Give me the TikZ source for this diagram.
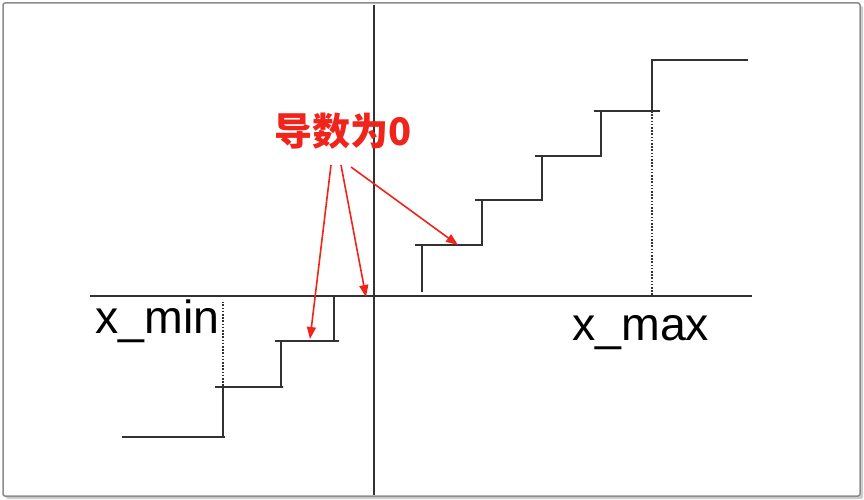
\documentclass[tikz,border=0pt]{standalone}
\usepackage{fontspec}
\setmainfont{Liberation Sans}
\newfontfamily\cjk{Noto Sans CJK SC}
\usetikzlibrary{arrows.meta}
\definecolor{stairgray}{RGB}{50,50,50}
\definecolor{zerored}{RGB}{240,36,26}

\begin{document}
\begin{tikzpicture}[x=1pt,y=-1pt,
  stair/.style={line width=2.8pt, stairgray},
  axis/.style={line width=2.2pt, stairgray},
  guide/.style={line width=1.8pt, stairgray, dash pattern=on 1.6pt off 1.6pt},
  zero/.style={line width=1.6pt, zerored, -{Triangle[length=12pt,width=9pt]}}]
                
                    \useasboundingbox (0,0) rectangle (864,500);
                    % frame with its shadow
                    \fill[black!20, rounded corners=2pt] (6,6) rectangle (863,499);
                    \fill[white, draw=black!45, line width=1.5pt, rounded corners=2pt] (3,3) rectangle (860,496);
                    
                    % axes
                    \coordinate (xl) at (90,296); \coordinate (xr) at (752,296);
                    \coordinate (yt) at (374,5); \coordinate (yb) at (374,495);
                    \draw[axis] (xl) -- (xr);
                    \draw[axis] (yt) -- (yb);
                    
                    % left stairs
                    \draw[stair] (122,437) -- (225,437);
                    \draw[stair] (223,437) -- (223,386);
                    \draw[guide] (223,386) -- (223,302);
                    \draw[stair] (215,387) -- (283,387) -- (281,387) -- (281,341);
                    \draw[stair] (275,341) -- (339,341);
                    \draw[stair] (334,341) -- (334,296);
                    
                    % right stairs
                    \draw[stair] (422,292) -- (422,245);
                    \draw[stair] (415,245) -- (483,245);
                    \draw[stair] (482,245) -- (482,200);
                    \draw[stair] (475,200) -- (543,200);
                    \draw[stair] (542,200) -- (542,156);
                    \draw[stair] (535,156) -- (602,156);
                    \draw[stair] (601,156) -- (601,111);
                    \draw[stair] (594,111) -- (660,111);
                    \draw[guide] (652,111) -- (652,296);
                    \draw[stair] (652,111) -- (652,60) -- (748,60);
                    
                    % labels
                    \node[anchor=base west, inner sep=0pt, font=\fontsize{46.5}{50}\selectfont] (xmin) at (95,333) {x\_min};
                    \node[anchor=base west, inner sep=0pt, font=\fontsize{46.5}{50}\selectfont] (xmax) at (572,340) {x\_max};
                    \node[anchor=base west, inner sep=0pt, zerored, font=\cjk\bfseries\fontsize{38}{40}\selectfont] (zero) at (274,146) {导数为0};
                    
                    % arrows to the flat parts
                    \coordinate (s1) at (331,165); \coordinate (e1) at (310,339);
                    \coordinate (s2) at (341,165); \coordinate (e2) at (366,297);
                    \coordinate (s3) at (351,167); \coordinate (e3) at (458,245);
                    \draw[zero] (s1) -- (e1);
                    \draw[zero] (s2) -- (e2);
                    \draw[zero] (s3) -- (e3);
                    
                \end{tikzpicture}
\end{document}
